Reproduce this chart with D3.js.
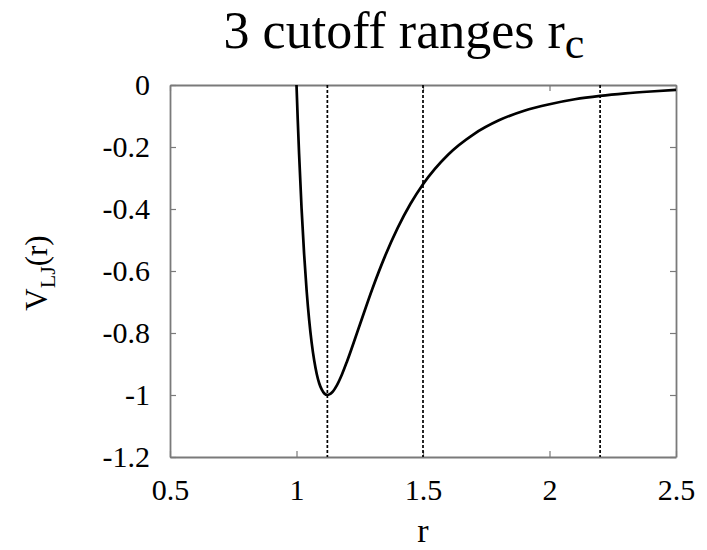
<!DOCTYPE html>
<html>
<head>
<meta charset="utf-8">
<script src="https://cdn.jsdelivr.net/npm/d3@7"></script>
<style>
  body { margin: 0; background: #fff; }
  text { font-family: "Liberation Serif", "Times New Roman", serif; fill: #000; }
</style>
</head>
<body>
<div id="app"></div>
<script>
// values
const rValues = [1.0, 1.005, 1.01, 1.02, 1.03, 1.04, 1.05, 1.06, 1.07, 1.08, 1.09, 1.1, 1.11, 1.122, 1.13, 1.14, 1.16, 1.18, 1.2,
  1.25, 1.3, 1.35, 1.4, 1.45, 1.5, 1.6, 1.7, 1.8, 1.9, 2.0, 2.1, 2.2, 2.3, 2.4, 2.5];
const vValues = [0, -0.114, -0.218, -0.398, -0.544, -0.663, -0.758, -0.832, -0.889, -0.932, -0.963, -0.983, -0.995, -1.0, -0.998, -0.992, -0.968, -0.933, -0.891,
  -0.774, -0.657, -0.552, -0.461, -0.384, -0.32, -0.224, -0.159, -0.114, -0.083, -0.062, -0.046, -0.035, -0.027, -0.021, -0.016];
const cutoffs = [1.122, 1.5, 2.2];
const xTicks = [0.5, 1, 1.5, 2, 2.5];
const yTicks = [0, -0.2, -0.4, -0.6, -0.8, -1, -1.2];

const width = 707, height = 550;
const margin = { top: 85, right: 31, bottom: 93, left: 170 };
const w = width - margin.left - margin.right;
const h = height - margin.top - margin.bottom;
const frameColor = '#7a7a7a';

const svg = d3.select('#app').append('svg')
  .attr('width', width)
  .attr('height', height);

const g = svg.append('g').attr('transform', `translate(${margin.left},${margin.top})`);

const x = d3.scaleLinear().domain([0.5, 2.5]).range([0, w]);
const y = d3.scaleLinear().domain([-1.2, 0]).range([h, 0]);

const fmt = (d) => String(d);

// axes, ticks pointing inward
const styleAxis = (sel) => {
  sel.select('.domain').attr('stroke', frameColor).attr('stroke-width', 1.8);
  sel.selectAll('.tick line').attr('stroke', frameColor).attr('stroke-width', 1.2);
  sel.selectAll('.tick text')
    .attr('font-size', 30)
    .attr('fill', '#000');
};

g.append('g').attr('transform', `translate(0,${h})`)
  .call(d3.axisBottom(x).tickValues(xTicks).tickFormat(fmt).tickSizeInner(-6).tickSizeOuter(0).tickPadding(22))
  .call(styleAxis);
g.append('g')
  .call(d3.axisTop(x).tickValues(xTicks).tickFormat('').tickSizeInner(-6).tickSizeOuter(0))
  .call(styleAxis);
g.append('g')
  .call(d3.axisLeft(y).tickValues(yTicks).tickFormat(fmt).tickSizeInner(-6).tickSizeOuter(0).tickPadding(20))
  .call(styleAxis);
g.append('g').attr('transform', `translate(${w},0)`)
  .call(d3.axisRight(y).tickValues(yTicks).tickFormat('').tickSizeInner(-6).tickSizeOuter(0))
  .call(styleAxis);

// cutoff lines
g.selectAll('.cutoff')
  .data(cutoffs)
  .enter()
  .append('line')
  .attr('class', 'cutoff')
  .attr('x1', (d) => x(d))
  .attr('x2', (d) => x(d))
  .attr('y1', 0)
  .attr('y2', h)
  .attr('stroke', '#000')
  .attr('stroke-width', 1.7)
  .attr('stroke-dasharray', '3,2');

// potential curve
g.append('clipPath').attr('id', 'clip')
  .append('rect').attr('width', w).attr('height', h);

const points = rValues.map((r, i) => [r, vValues[i]]);
const line = d3.line()
  .x((d) => x(d[0]))
  .y((d) => y(d[1]))
  .curve(d3.curveMonotoneX);

g.append('path')
  .datum(points)
  .attr('clip-path', 'url(#clip)')
  .attr('d', line)
  .attr('fill', 'none')
  .attr('stroke', '#000')
  .attr('stroke-width', 2.7);

// title
const title = svg.append('text')
  .attr('x', 404)
  .attr('y', 48)
  .attr('text-anchor', 'middle')
  .attr('font-size', 52);
title.append('tspan').text('3 cutoff ranges r');
title.append('tspan').attr('font-size', 44).attr('dy', 10).text('c');

// axis labels
svg.append('text')
  .attr('x', margin.left + w / 2)
  .attr('y', 542)
  .attr('text-anchor', 'middle')
  .attr('font-size', 34)
  .text('r');

const yLabel = svg.append('text')
  .attr('transform', `translate(47,${margin.top + h / 2 + 2}) rotate(-90)`)
  .attr('text-anchor', 'middle')
  .attr('font-size', 31);
yLabel.append('tspan').text('V');
yLabel.append('tspan').attr('font-size', 22).attr('dy', 8).text('LJ');
yLabel.append('tspan').attr('dy', -8).text('(r)');
</script>
</body>
</html>
